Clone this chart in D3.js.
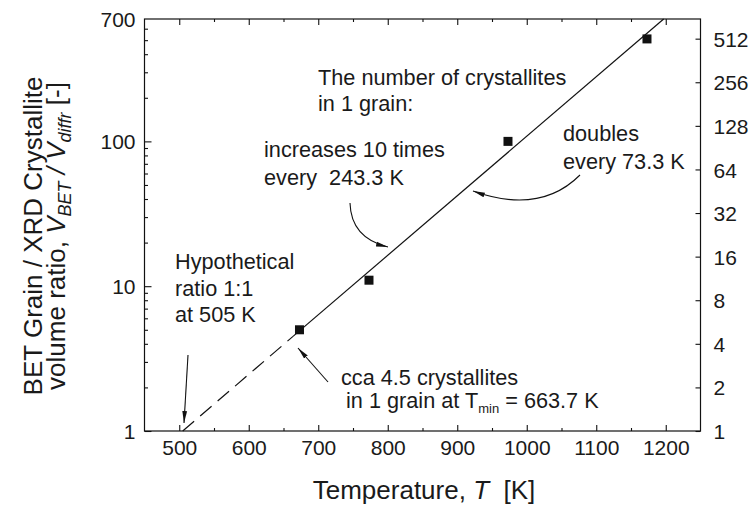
<!DOCTYPE html>
<html>
<head>
<meta charset="utf-8">
<script src="https://cdn.jsdelivr.net/npm/d3@7"></script>
<style>
  html, body { margin: 0; padding: 0; background: #fff; }
  svg { display: block; font-family: "Liberation Sans", Arial, sans-serif; }
  text { fill: #1a1a1a; white-space: pre; }
</style>
</head>
<body>
<svg id="chart" width="752" height="508"></svg>
<script>
// Measured grain/crystallite volume ratios
const temperatures = [673, 773, 973, 1173];
const ratios = [5, 11, 100, 510];

// Fitted exponential trend (straight on the log axis)
const fitExtrapolated = [[505, 1], [663.7, 4.5]];
const fitMeasured = [[663.7, 4.5], [1197, 700]];

// Axis ticks
const xMajorTicks = [500, 600, 700, 800, 900, 1000, 1100, 1200];
const xMinorTicks = [550, 650, 750, 850, 950, 1050, 1150];
const yMajorTicks = [1, 10, 100];
const yMinorTicks = [2, 3, 4, 5, 6, 7, 8, 9, 20, 30, 40, 50, 60, 70, 80, 90, 200, 300, 400, 500, 600];
const yTopLabel = 700;
const rightTicks = [1, 2, 4, 8, 16, 32, 64, 128, 256, 512];

const svg = d3.select("#chart");
const plot = { left: 144.5, right: 700.5, top: 19, bottom: 431 };

const x = d3.scaleLinear().domain([450, 1250]).range([plot.left, plot.right]);
const y = d3.scaleLog().domain([1, 700]).range([plot.bottom, plot.top]);

const ink = "#111";
const tickFont = 21;

// Arrowhead marker
const defs = svg.append("defs");
defs.append("marker")
  .attr("id", "head")
  .attr("viewBox", "0 0 12 6")
  .attr("refX", 12).attr("refY", 3)
  .attr("markerWidth", 12).attr("markerHeight", 6)
  .attr("markerUnits", "userSpaceOnUse")
  .attr("orient", "auto")
  .append("path").attr("d", "M0,0.6 L12,3 L0,5.4 Z").attr("fill", ink);

// Bottom / top axes (ticks pointing inward)
const gBottom = svg.append("g").attr("transform", `translate(0,${plot.bottom})`);
gBottom.call(d3.axisBottom(x).tickValues(xMajorTicks).tickSize(-6).tickPadding(9).tickFormat(d3.format("d")));
gBottom.append("g").call(d3.axisBottom(x).tickValues(xMinorTicks).tickSize(-3).tickFormat(""));

const gTop = svg.append("g").attr("transform", `translate(0,${plot.top})`);
gTop.call(d3.axisTop(x).tickValues(xMajorTicks).tickSize(-6).tickFormat(""));
gTop.append("g").call(d3.axisTop(x).tickValues(xMinorTicks).tickSize(-3).tickFormat(""));

// Left axis (log)
const gLeft = svg.append("g").attr("transform", `translate(${plot.left},0)`);
gLeft.call(d3.axisLeft(y).tickValues(yMajorTicks.concat([yTopLabel])).tickSize(-7).tickPadding(9).tickFormat(d3.format("d")));
gLeft.append("g").call(d3.axisLeft(y).tickValues(yMinorTicks).tickSize(-3.5).tickFormat(""));

// Right axis: powers of two on the same log scale
const gRight = svg.append("g").attr("transform", `translate(${plot.right},0)`);
gRight.call(d3.axisRight(y).tickValues(rightTicks).tickSize(-5).tickPadding(13).tickFormat(d3.format("d")));

svg.selectAll(".domain").remove();
svg.selectAll(".tick line").attr("stroke", ink).attr("stroke-width", 1.1);
svg.selectAll(".tick text").attr("font-size", tickFont).attr("fill", "#1a1a1a")
  .attr("font-family", "Liberation Sans, Arial, sans-serif");
// no tick mark at the top label (it sits on the frame corner)
gLeft.selectAll(".tick").filter(d => d === yTopLabel).select("line").remove();
gBottom.selectAll(".tick text").attr("dy", "0.71em");
gLeft.selectAll(".tick text").attr("dy", "0.36em");
gRight.selectAll(".tick text").attr("dy", "0.36em");

// Frame
svg.append("rect")
  .attr("x", plot.left).attr("y", plot.top)
  .attr("width", plot.right - plot.left).attr("height", plot.bottom - plot.top)
  .attr("fill", "none").attr("stroke", ink).attr("stroke-width", 1.2);

// Trend line: dashed extrapolation, solid over the measured range
const line = d3.line().x(d => x(d[0])).y(d => y(d[1]));
svg.append("path").datum(fitExtrapolated).attr("d", line)
  .attr("fill", "none").attr("stroke", ink).attr("stroke-width", 1.2)
  .attr("stroke-dasharray", "15 8");
svg.append("path").datum(fitMeasured).attr("d", line)
  .attr("fill", "none").attr("stroke", ink).attr("stroke-width", 1.2);

// Data points
const sq = 9;
svg.append("g").selectAll("rect").data(temperatures).join("rect")
  .attr("x", d => x(d) - sq / 2)
  .attr("y", (d, i) => y(ratios[i]) - sq / 2)
  .attr("width", sq).attr("height", sq)
  .attr("fill", ink);

// Annotations
const annFont = 21.7;
function label(lines, x0, y0, dy) {
  lines.forEach((t, i) => {
    svg.append("text").attr("x", x0).attr("y", y0 + i * dy)
      .attr("font-size", annFont).text(t);
  });
}
label(["The number of crystallites", "in 1 grain:"], 318, 85, 25.5);
label(["increases 10 times", "every  243.3 K"], 264, 157, 28);
label(["doubles", "every 73.3 K"], 563, 141, 28);
label(["Hypothetical", "ratio 1:1", "at 505 K"], 175, 269, 26.5);
label(["cca 4.5 crystallites"], 341, 385, 0);
const tmin = svg.append("text").attr("x", 346).attr("y", 408).attr("font-size", annFont);
tmin.append("tspan").text("in 1 grain at T");
tmin.append("tspan").attr("font-size", 13).attr("dy", 5).text("min");
tmin.append("tspan").attr("dy", -5).text(" = 663.7 K");

// Pointer arrows
function arrow(d) {
  svg.append("path").attr("d", d).attr("fill", "none")
    .attr("stroke", ink).attr("stroke-width", 1.1)
    .attr("marker-end", "url(#head)");
}
arrow("M350,203 Q351,238 388,247");
arrow("M580,175 Q540,215 473,191");
arrow("M188,355 L184,423");
arrow("M328,382 L298,348");

// Axis titles
const titleFont = 26;
const xt = svg.append("text").attr("x", 424).attr("y", 499)
  .attr("text-anchor", "middle").attr("font-size", titleFont);
xt.append("tspan").text("Temperature, ");
xt.append("tspan").attr("font-style", "italic").text("T");
xt.append("tspan").text("  [K]");

const yt = svg.append("g").attr("transform", "translate(0,236) rotate(-90)");
yt.append("text").attr("x", 0).attr("y", 42).attr("text-anchor", "middle")
  .attr("font-size", titleFont).text("BET Grain / XRD Crystallite");
const yt2 = yt.append("text").attr("x", 0).attr("y", 65).attr("text-anchor", "middle")
  .attr("font-size", titleFont);
yt2.append("tspan").text("volume ratio, ");
yt2.append("tspan").attr("font-style", "italic").text("V");
yt2.append("tspan").attr("font-style", "italic").attr("font-size", 18).attr("dy", 6).text("BET");
yt2.append("tspan").attr("font-style", "italic").attr("dy", -6).text(" / V");
yt2.append("tspan").attr("font-style", "italic").attr("font-size", 18).attr("dy", 6).text("diffr");
yt2.append("tspan").attr("dy", -6).text(" [-]");
</script>
</body>
</html>
